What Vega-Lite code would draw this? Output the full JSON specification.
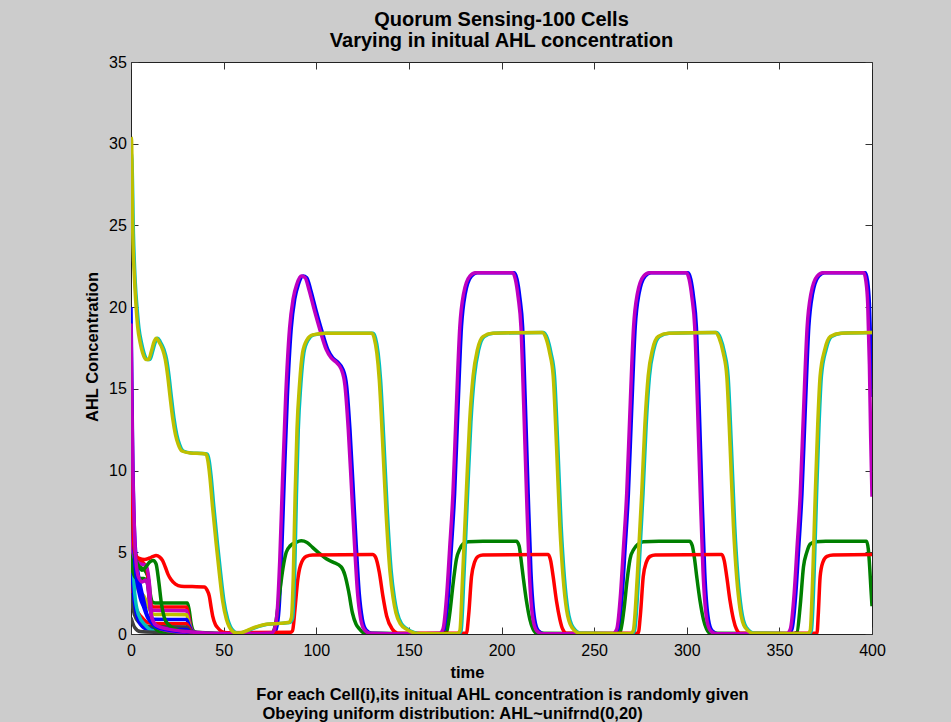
{
"$schema": "https://vega.github.io/schema/vega-lite/v6.json",
"width": 741, "height": 572,
"autosize": {"type": "none"},
"padding": {"left": 131, "top": 62, "right": 79, "bottom": 88},
"background": "#cccccc",
"title": {"text": ["Quorum Sensing-100 Cells", "Varying in initual AHL concentration"], "fontSize": 20, "fontWeight": "bold", "color": "black", "lineHeight": 21, "anchor": "middle", "frame": "group", "baseline": "bottom", "offset": 8, "dy": 25},
"config": {"view": {"stroke": "#222222", "strokeWidth": 1, "fill": "white"}, "font": "Liberation Sans"},
"data": {"values": [
{"s":"s01","t":0,"v":9},{"s":"s01","t":0.8,"v":6},{"s":"s01","t":2,"v":4.4},{"s":"s01","t":5,"v":4.1},{"s":"s01","t":8,"v":3.8},{"s":"s01","t":9.5,"v":3.3},{"s":"s01","t":10.5,"v":2.4},{"s":"s01","t":11.5,"v":1.95},{"s":"s01","t":13,"v":1.9},{"s":"s01","t":30.5,"v":1.9},{"s":"s01","t":31.5,"v":1.4},{"s":"s01","t":32.5,"v":0.6},{"s":"s01","t":34,"v":0.15},{"s":"s01","t":37,"v":0.03},{"s":"s01","t":60,"v":0},
{"s":"s02","t":0,"v":7},{"s":"s02","t":1,"v":5},{"s":"s02","t":2,"v":4.5},{"s":"s02","t":6,"v":4.4},{"s":"s02","t":8.5,"v":4},{"s":"s02","t":10,"v":2.5},{"s":"s02","t":11,"v":1.75},{"s":"s02","t":12,"v":1.65},{"s":"s02","t":30,"v":1.65},{"s":"s02","t":31,"v":1.2},{"s":"s02","t":32,"v":0.5},{"s":"s02","t":33.5,"v":0.1},{"s":"s02","t":36,"v":0.02},{"s":"s02","t":60,"v":0},
{"s":"s03","t":0,"v":17},{"s":"s03","t":0.8,"v":9},{"s":"s03","t":1.8,"v":5},{"s":"s03","t":3,"v":3.6},{"s":"s03","t":6,"v":3.2},{"s":"s03","t":8.5,"v":3.3},{"s":"s03","t":9.5,"v":2.5},{"s":"s03","t":10.5,"v":1.6},{"s":"s03","t":11.5,"v":1.45},{"s":"s03","t":30,"v":1.42},{"s":"s03","t":31,"v":1.0},{"s":"s03","t":32.3,"v":0.4},{"s":"s03","t":34,"v":0.08},{"s":"s03","t":37,"v":0},{"s":"s03","t":60,"v":0},
{"s":"s04","t":0,"v":11},{"s":"s04","t":1,"v":6},{"s":"s04","t":2,"v":3.6},{"s":"s04","t":4,"v":2.7},{"s":"s04","t":7,"v":2.3},{"s":"s04","t":9,"v":1.8},{"s":"s04","t":11,"v":1.3},{"s":"s04","t":13,"v":1.2},{"s":"s04","t":30,"v":1.18},{"s":"s04","t":31,"v":0.8},{"s":"s04","t":32.3,"v":0.3},{"s":"s04","t":34,"v":0.05},{"s":"s04","t":60,"v":0},
{"s":"s05","t":0,"v":20},{"s":"s05","t":0.8,"v":12},{"s":"s05","t":2,"v":6},{"s":"s05","t":3.5,"v":4},{"s":"s05","t":5,"v":3},{"s":"s05","t":7,"v":2},{"s":"s05","t":9,"v":1.1},{"s":"s05","t":11,"v":0.9},{"s":"s05","t":30,"v":0.88},{"s":"s05","t":31.5,"v":0.5},{"s":"s05","t":33,"v":0.15},{"s":"s05","t":35,"v":0.02},{"s":"s05","t":60,"v":0},
{"s":"s06","t":0,"v":3.5},{"s":"s06","t":1,"v":2.5},{"s":"s06","t":3,"v":1.5},{"s":"s06","t":6,"v":1},{"s":"s06","t":9,"v":0.7},{"s":"s06","t":12,"v":0.64},{"s":"s06","t":30,"v":0.62},{"s":"s06","t":31.5,"v":0.35},{"s":"s06","t":33,"v":0.1},{"s":"s06","t":35,"v":0.02},{"s":"s06","t":60,"v":0},
{"s":"s07","t":0,"v":2.5},{"s":"s07","t":1,"v":1.6},{"s":"s07","t":3,"v":0.9},{"s":"s07","t":6,"v":0.6},{"s":"s07","t":10,"v":0.45},{"s":"s07","t":30,"v":0.43},{"s":"s07","t":32,"v":0.2},{"s":"s07","t":34,"v":0.04},{"s":"s07","t":60,"v":0},
{"s":"s08","t":0,"v":6},{"s":"s08","t":1,"v":3},{"s":"s08","t":2.5,"v":1.5},{"s":"s08","t":5,"v":0.6},{"s":"s08","t":9,"v":0.3},{"s":"s08","t":30,"v":0.27},{"s":"s08","t":32,"v":0.1},{"s":"s08","t":34,"v":0.02},{"s":"s08","t":60,"v":0},
{"s":"s09","t":0,"v":12},{"s":"s09","t":1,"v":5},{"s":"s09","t":2,"v":2.5},{"s":"s09","t":4,"v":1.2},{"s":"s09","t":8,"v":0.5},{"s":"s09","t":12,"v":0.2},{"s":"s09","t":25,"v":0.1},{"s":"s09","t":40,"v":0.03},{"s":"s09","t":60,"v":0},
{"s":"s10","t":0,"v":1},{"s":"s10","t":2,"v":0.4},{"s":"s10","t":5,"v":0.15},{"s":"s10","t":15,"v":0.1},{"s":"s10","t":30,"v":0.08},{"s":"s10","t":35,"v":0},{"s":"s10","t":60,"v":0},
{"s":"s11","t":0,"v":5},{"s":"s11","t":1,"v":3.8},{"s":"s11","t":3,"v":3.4},{"s":"s11","t":7,"v":3.4},{"s":"s11","t":9,"v":3.1},{"s":"s11","t":10.5,"v":1.5},{"s":"s11","t":12,"v":0.5},{"s":"s11","t":16,"v":0.15},{"s":"s11","t":30,"v":0.1},{"s":"s11","t":40,"v":0.02},{"s":"s11","t":60,"v":0},
{"s":"s12","t":0,"v":8},{"s":"s12","t":1,"v":5},{"s":"s12","t":2.5,"v":4.5},{"s":"s12","t":5,"v":4.3},{"s":"s12","t":8,"v":4.2},{"s":"s12","t":10,"v":3},{"s":"s12","t":11,"v":1.2},{"s":"s12","t":13,"v":0.5},{"s":"s12","t":20,"v":0.2},{"s":"s12","t":35,"v":0.05},{"s":"s12","t":60,"v":0},
{"s":"s13","t":0,"v":13},{"s":"s13","t":0.6,"v":9},{"s":"s13","t":1.3,"v":6},{"s":"s13","t":2.2,"v":4.2},{"s":"s13","t":3.5,"v":3.0},{"s":"s13","t":5,"v":2.2},{"s":"s13","t":7,"v":1.6},{"s":"s13","t":9,"v":1.0},{"s":"s13","t":11,"v":0.7},{"s":"s13","t":14,"v":0.4},{"s":"s13","t":20,"v":0.25},{"s":"s13","t":30,"v":0.12},{"s":"s13","t":40,"v":0.05},{"s":"s13","t":50,"v":0.02},{"s":"s13","t":70,"v":0.03},{"s":"s13","t":77,"v":0.06},{"s":"s13","t":78.4,"v":0.3},{"s":"s13","t":79.9,"v":1.5},{"s":"s13","t":81.2,"v":4.5},{"s":"s13","t":82.7,"v":9.4},{"s":"s13","t":84.4,"v":14.5},{"s":"s13","t":86.5,"v":18.7},{"s":"s13","t":88.4,"v":20.5},{"s":"s13","t":90.4,"v":21.4},{"s":"s13","t":92.9,"v":21.9},{"s":"s13","t":94.9,"v":21.8},{"s":"s13","t":96.9,"v":21.1},{"s":"s13","t":99.9,"v":19.8},{"s":"s13","t":102.9,"v":18.6},{"s":"s13","t":106.3,"v":17.4},{"s":"s13","t":108.9,"v":16.9},{"s":"s13","t":111.9,"v":16.6},{"s":"s13","t":114.4,"v":16.2},{"s":"s13","t":116.4,"v":15.2},{"s":"s13","t":118.2,"v":12.5},{"s":"s13","t":119.9,"v":9},{"s":"s13","t":121.6,"v":5.4},{"s":"s13","t":123.2,"v":2.5},{"s":"s13","t":124.9,"v":0.9},{"s":"s13","t":126.9,"v":0.25},{"s":"s13","t":129.9,"v":0.05},{"s":"s13","t":150,"v":0.01},{"s":"s13","t":167.4,"v":0.03},{"s":"s13","t":169.3,"v":0.3},{"s":"s13","t":171.4,"v":2.5},{"s":"s13","t":172.9,"v":5.2},{"s":"s13","t":174.7,"v":8.6},{"s":"s13","t":176.4,"v":13.5},{"s":"s13","t":178.4,"v":18.8},{"s":"s13","t":180.4,"v":20.8},{"s":"s13","t":183.8,"v":21.9},{"s":"s13","t":186.9,"v":22.1},{"s":"s13","t":206.9,"v":22.1},{"s":"s13","t":208.4,"v":21.7},{"s":"s13","t":209.9,"v":20.6},{"s":"s13","t":211.4,"v":18.8},{"s":"s13","t":212.9,"v":14},{"s":"s13","t":214.4,"v":8.6},{"s":"s13","t":215.9,"v":3.8},{"s":"s13","t":217.9,"v":0.9},{"s":"s13","t":219.9,"v":0.2},{"s":"s13","t":222.9,"v":0.02},{"s":"s13","t":261,"v":0.02},{"s":"s13","t":263.1,"v":0.3},{"s":"s13","t":265.2,"v":2.5},{"s":"s13","t":266.7,"v":5.2},{"s":"s13","t":268.5,"v":8.6},{"s":"s13","t":270.2,"v":13.5},{"s":"s13","t":272.2,"v":18.8},{"s":"s13","t":274.2,"v":20.8},{"s":"s13","t":277.6,"v":21.9},{"s":"s13","t":280.7,"v":22.1},{"s":"s13","t":300.7,"v":22.1},{"s":"s13","t":302.2,"v":21.7},{"s":"s13","t":303.7,"v":20.6},{"s":"s13","t":305.2,"v":18.8},{"s":"s13","t":306.7,"v":14},{"s":"s13","t":308.2,"v":8.6},{"s":"s13","t":309.7,"v":3.8},{"s":"s13","t":311.7,"v":0.9},{"s":"s13","t":313.7,"v":0.2},{"s":"s13","t":316.7,"v":0.02},{"s":"s13","t":355,"v":0.02},{"s":"s13","t":356.8,"v":0.3},{"s":"s13","t":358.9,"v":2.5},{"s":"s13","t":360.4,"v":5.2},{"s":"s13","t":362.2,"v":8.6},{"s":"s13","t":363.9,"v":13.5},{"s":"s13","t":365.9,"v":18.8},{"s":"s13","t":367.9,"v":20.8},{"s":"s13","t":371.3,"v":21.9},{"s":"s13","t":374.4,"v":22.1},{"s":"s13","t":396.4,"v":22.1},{"s":"s13","t":397.6,"v":21.6},{"s":"s13","t":398.6,"v":20.2},{"s":"s13","t":399.5,"v":17},{"s":"s13","t":400,"v":14.5},
{"s":"s14","t":0,"v":14},{"s":"s14","t":0.7,"v":9},{"s":"s14","t":1.5,"v":6},{"s":"s14","t":2.5,"v":4.6},{"s":"s14","t":4,"v":4.2},{"s":"s14","t":6,"v":3.9},{"s":"s14","t":8,"v":4.1},{"s":"s14","t":10,"v":4.4},{"s":"s14","t":12,"v":4.5},{"s":"s14","t":13.5,"v":4.3},{"s":"s14","t":15,"v":3.2},{"s":"s14","t":16.5,"v":1.8},{"s":"s14","t":18,"v":1.0},{"s":"s14","t":20,"v":0.6},{"s":"s14","t":25,"v":0.25},{"s":"s14","t":35,"v":0.1},{"s":"s14","t":50,"v":0.03},{"s":"s14","t":76,"v":0.05},{"s":"s14","t":78,"v":0.6},{"s":"s14","t":80,"v":2.3},{"s":"s14","t":82,"v":4},{"s":"s14","t":83.8,"v":5.0},{"s":"s14","t":86,"v":5.4},{"s":"s14","t":89,"v":5.6},{"s":"s14","t":91.9,"v":5.7},{"s":"s14","t":95,"v":5.6},{"s":"s14","t":98,"v":5.3},{"s":"s14","t":102,"v":4.9},{"s":"s14","t":105.4,"v":4.6},{"s":"s14","t":109,"v":4.4},{"s":"s14","t":113.5,"v":4.1},{"s":"s14","t":115.5,"v":3.6},{"s":"s14","t":117.5,"v":2.6},{"s":"s14","t":119.5,"v":1.3},{"s":"s14","t":121.5,"v":0.6},{"s":"s14","t":123.4,"v":0.3},{"s":"s14","t":126,"v":0.05},{"s":"s14","t":168,"v":0.02},{"s":"s14","t":170.3,"v":0.1},{"s":"s14","t":172,"v":1.2},{"s":"s14","t":174,"v":3.2},{"s":"s14","t":175.7,"v":4.6},{"s":"s14","t":177.5,"v":5.2},{"s":"s14","t":179.2,"v":5.5},{"s":"s14","t":182,"v":5.65},{"s":"s14","t":190,"v":5.68},{"s":"s14","t":208,"v":5.68},{"s":"s14","t":209.5,"v":5.4},{"s":"s14","t":210.5,"v":4.6},{"s":"s14","t":211.7,"v":3.5},{"s":"s14","t":213.5,"v":2.0},{"s":"s14","t":215.3,"v":0.9},{"s":"s14","t":217,"v":0.3},{"s":"s14","t":219,"v":0.05},{"s":"s14","t":262,"v":0.02},{"s":"s14","t":264,"v":0.1},{"s":"s14","t":266,"v":1.4},{"s":"s14","t":267.8,"v":3.3},{"s":"s14","t":269.4,"v":4.6},{"s":"s14","t":271.5,"v":5.2},{"s":"s14","t":273.8,"v":5.5},{"s":"s14","t":276.5,"v":5.65},{"s":"s14","t":285,"v":5.68},{"s":"s14","t":301.5,"v":5.68},{"s":"s14","t":303,"v":5.4},{"s":"s14","t":304.2,"v":4.6},{"s":"s14","t":305.4,"v":3.5},{"s":"s14","t":307.2,"v":2.0},{"s":"s14","t":309,"v":0.9},{"s":"s14","t":310.7,"v":0.3},{"s":"s14","t":312.6,"v":0.05},{"s":"s14","t":357.5,"v":0.02},{"s":"s14","t":359.5,"v":0.1},{"s":"s14","t":361.3,"v":1.8},{"s":"s14","t":363,"v":4.1},{"s":"s14","t":364.8,"v":5.0},{"s":"s14","t":366.6,"v":5.5},{"s":"s14","t":369.5,"v":5.65},{"s":"s14","t":375,"v":5.68},{"s":"s14","t":397,"v":5.68},{"s":"s14","t":398,"v":5.2},{"s":"s14","t":398.8,"v":4.0},{"s":"s14","t":399.4,"v":2.8},{"s":"s14","t":400,"v":1.7},
{"s":"s15","t":0,"v":15},{"s":"s15","t":0.8,"v":8},{"s":"s15","t":1.8,"v":5.2},{"s":"s15","t":3,"v":4.75},{"s":"s15","t":4.5,"v":4.62},{"s":"s15","t":7.2,"v":4.56},{"s":"s15","t":10,"v":4.65},{"s":"s15","t":12,"v":4.75},{"s":"s15","t":13.5,"v":4.8},{"s":"s15","t":15.5,"v":4.7},{"s":"s15","t":17,"v":4.5},{"s":"s15","t":18.5,"v":4.1},{"s":"s15","t":20,"v":3.65},{"s":"s15","t":21.6,"v":3.33},{"s":"s15","t":24,"v":3.05},{"s":"s15","t":27,"v":2.92},{"s":"s15","t":33,"v":2.9},{"s":"s15","t":39.6,"v":2.88},{"s":"s15","t":41,"v":2.7},{"s":"s15","t":42.3,"v":2.3},{"s":"s15","t":43.3,"v":1.6},{"s":"s15","t":44.1,"v":1.1},{"s":"s15","t":45.5,"v":0.6},{"s":"s15","t":46.8,"v":0.38},{"s":"s15","t":49,"v":0.15},{"s":"s15","t":51.8,"v":0.08},{"s":"s15","t":86,"v":0.1},{"s":"s15","t":87.2,"v":0.2},{"s":"s15","t":88.5,"v":1.5},{"s":"s15","t":90,"v":3.3},{"s":"s15","t":91.5,"v":4.2},{"s":"s15","t":94.6,"v":4.75},{"s":"s15","t":98,"v":4.83},{"s":"s15","t":130.5,"v":4.86},{"s":"s15","t":132,"v":4.7},{"s":"s15","t":134,"v":3.8},{"s":"s15","t":136,"v":2.3},{"s":"s15","t":138,"v":1.1},{"s":"s15","t":141,"v":0.3},{"s":"s15","t":144,"v":0.05},{"s":"s15","t":181.1,"v":0.05},{"s":"s15","t":182.3,"v":1.2},{"s":"s15","t":183.8,"v":3.5},{"s":"s15","t":185.5,"v":4.4},{"s":"s15","t":187.4,"v":4.75},{"s":"s15","t":190,"v":4.84},{"s":"s15","t":225.2,"v":4.86},{"s":"s15","t":226.5,"v":4.5},{"s":"s15","t":227.9,"v":3.5},{"s":"s15","t":229.7,"v":2.0},{"s":"s15","t":231.5,"v":0.9},{"s":"s15","t":233,"v":0.3},{"s":"s15","t":235,"v":0.05},{"s":"s15","t":273.8,"v":0.05},{"s":"s15","t":275,"v":1.2},{"s":"s15","t":276.5,"v":3.5},{"s":"s15","t":278.2,"v":4.4},{"s":"s15","t":280.2,"v":4.75},{"s":"s15","t":283,"v":4.84},{"s":"s15","t":318.9,"v":4.86},{"s":"s15","t":320.2,"v":4.5},{"s":"s15","t":321.6,"v":3.5},{"s":"s15","t":323.4,"v":2.0},{"s":"s15","t":325.2,"v":0.9},{"s":"s15","t":326.8,"v":0.3},{"s":"s15","t":328.8,"v":0.05},{"s":"s15","t":370.3,"v":0.05},{"s":"s15","t":371,"v":1.2},{"s":"s15","t":372,"v":3.5},{"s":"s15","t":373.5,"v":4.4},{"s":"s15","t":375.7,"v":4.75},{"s":"s15","t":379,"v":4.84},{"s":"s15","t":400,"v":4.86},
{"s":"s16","t":0,"v":29.5},{"s":"s16","t":0.5,"v":29},{"s":"s16","t":1.3,"v":24.5},{"s":"s16","t":2.3,"v":21.5},{"s":"s16","t":3.3,"v":19.9},{"s":"s16","t":4.3,"v":18.7},{"s":"s16","t":5.7,"v":17.8},{"s":"s16","t":7,"v":17.2},{"s":"s16","t":8.7,"v":16.8},{"s":"s16","t":10.2,"v":16.8},{"s":"s16","t":11.7,"v":17.3},{"s":"s16","t":13.2,"v":17.9},{"s":"s16","t":14.4,"v":18.1},{"s":"s16","t":15.7,"v":17.9},{"s":"s16","t":17.8,"v":17.4},{"s":"s16","t":19.2,"v":16.8},{"s":"s16","t":20.5,"v":15.8},{"s":"s16","t":21.7,"v":14.6},{"s":"s16","t":23.2,"v":13.2},{"s":"s16","t":24.7,"v":12.2},{"s":"s16","t":26.2,"v":11.6},{"s":"s16","t":28.2,"v":11.2},{"s":"s16","t":32.7,"v":11.08},{"s":"s16","t":38.7,"v":11.05},{"s":"s16","t":41.2,"v":11},{"s":"s16","t":42.2,"v":10.6},{"s":"s16","t":43.2,"v":9.7},{"s":"s16","t":44.7,"v":7.8},{"s":"s16","t":46.7,"v":5.5},{"s":"s16","t":48.4,"v":3.7},{"s":"s16","t":50.2,"v":2},{"s":"s16","t":52.2,"v":0.9},{"s":"s16","t":53.7,"v":0.45},{"s":"s16","t":55.7,"v":0.15},{"s":"s16","t":57.7,"v":0.06},{"s":"s16","t":60.7,"v":0.1},{"s":"s16","t":64.7,"v":0.28},{"s":"s16","t":68.7,"v":0.45},{"s":"s16","t":73.7,"v":0.6},{"s":"s16","t":80.7,"v":0.65},{"s":"s16","t":85.7,"v":0.7},{"s":"s16","t":87.3,"v":1.0},{"s":"s16","t":88.3,"v":3.5},{"s":"s16","t":89.3,"v":8.5},{"s":"s16","t":90.3,"v":12.5},{"s":"s16","t":91.7,"v":15.3},{"s":"s16","t":93.3,"v":17.2},{"s":"s16","t":95.7,"v":18},{"s":"s16","t":98.7,"v":18.3},{"s":"s16","t":105.7,"v":18.4},{"s":"s16","t":130.7,"v":18.4},{"s":"s16","t":132,"v":18.1},{"s":"s16","t":133.4,"v":17.2},{"s":"s16","t":134.7,"v":15.6},{"s":"s16","t":136.5,"v":11.8},{"s":"s16","t":138.4,"v":7.4},{"s":"s16","t":140.5,"v":3.8},{"s":"s16","t":142.2,"v":2.2},{"s":"s16","t":143.7,"v":1.3},{"s":"s16","t":146.2,"v":0.6},{"s":"s16","t":149.3,"v":0.3},{"s":"s16","t":152.7,"v":0.1},{"s":"s16","t":155.7,"v":0.02},{"s":"s16","t":176.7,"v":0.02},{"s":"s16","t":178.2,"v":0.2},{"s":"s16","t":179.7,"v":3.5},{"s":"s16","t":181.7,"v":8.6},{"s":"s16","t":183.5,"v":13},{"s":"s16","t":185.4,"v":15.8},{"s":"s16","t":187.7,"v":17.4},{"s":"s16","t":190.7,"v":18.2},{"s":"s16","t":195.7,"v":18.4},{"s":"s16","t":222.7,"v":18.45},{"s":"s16","t":224.7,"v":18.1},{"s":"s16","t":226.7,"v":17.2},{"s":"s16","t":228.6,"v":15.8},{"s":"s16","t":230.4,"v":11.5},{"s":"s16","t":232.2,"v":6.6},{"s":"s16","t":234,"v":3.4},{"s":"s16","t":235.8,"v":1.5},{"s":"s16","t":238.7,"v":0.4},{"s":"s16","t":243,"v":0.05},{"s":"s16","t":270.2,"v":0.02},{"s":"s16","t":271.8,"v":0.2},{"s":"s16","t":274,"v":3.5},{"s":"s16","t":276.4,"v":8.6},{"s":"s16","t":278.1,"v":12.8},{"s":"s16","t":279.9,"v":15.8},{"s":"s16","t":282.2,"v":17.4},{"s":"s16","t":285.3,"v":18.2},{"s":"s16","t":290.7,"v":18.4},{"s":"s16","t":316.2,"v":18.45},{"s":"s16","t":318.2,"v":18.1},{"s":"s16","t":320.4,"v":17.2},{"s":"s16","t":322.3,"v":15.8},{"s":"s16","t":324.1,"v":11.5},{"s":"s16","t":325.9,"v":6.6},{"s":"s16","t":327.7,"v":3.4},{"s":"s16","t":329.5,"v":1.5},{"s":"s16","t":332.2,"v":0.4},{"s":"s16","t":336.7,"v":0.05},{"s":"s16","t":365.7,"v":0.02},{"s":"s16","t":367.3,"v":0.2},{"s":"s16","t":368.7,"v":3.5},{"s":"s16","t":370.1,"v":8.6},{"s":"s16","t":371.4,"v":12.8},{"s":"s16","t":372.7,"v":15.8},{"s":"s16","t":375.2,"v":17.4},{"s":"s16","t":378.2,"v":18.2},{"s":"s16","t":383.7,"v":18.4},{"s":"s16","t":400,"v":18.45},
{"s":"s17","t":0,"v":19},{"s":"s17","t":0.5,"v":14},{"s":"s17","t":1,"v":10},{"s":"s17","t":1.8,"v":6.5},{"s":"s17","t":2.7,"v":4.4},{"s":"s17","t":4,"v":3.5},{"s":"s17","t":6,"v":3.2},{"s":"s17","t":8,"v":3.3},{"s":"s17","t":9.3,"v":2.8},{"s":"s17","t":10.3,"v":1.6},{"s":"s17","t":11.5,"v":0.9},{"s":"s17","t":14,"v":0.5},{"s":"s17","t":20,"v":0.3},{"s":"s17","t":30,"v":0.15},{"s":"s17","t":40,"v":0.06},{"s":"s17","t":50,"v":0.03},{"s":"s17","t":70,"v":0.03},{"s":"s17","t":76,"v":0.06},{"s":"s17","t":77.5,"v":0.3},{"s":"s17","t":79,"v":1.5},{"s":"s17","t":80.3,"v":4.5},{"s":"s17","t":81.8,"v":9.4},{"s":"s17","t":83.5,"v":14.5},{"s":"s17","t":85.6,"v":18.7},{"s":"s17","t":87.5,"v":20.5},{"s":"s17","t":89.5,"v":21.4},{"s":"s17","t":92,"v":21.9},{"s":"s17","t":94,"v":21.8},{"s":"s17","t":96,"v":21.1},{"s":"s17","t":99,"v":19.8},{"s":"s17","t":102,"v":18.6},{"s":"s17","t":105.4,"v":17.4},{"s":"s17","t":108,"v":16.9},{"s":"s17","t":111,"v":16.6},{"s":"s17","t":113.5,"v":16.2},{"s":"s17","t":115.5,"v":15.2},{"s":"s17","t":117.3,"v":12.5},{"s":"s17","t":119,"v":9},{"s":"s17","t":120.7,"v":5.4},{"s":"s17","t":122.3,"v":2.5},{"s":"s17","t":124,"v":0.9},{"s":"s17","t":126,"v":0.25},{"s":"s17","t":129,"v":0.05},{"s":"s17","t":150,"v":0.01},{"s":"s17","t":166.5,"v":0.03},{"s":"s17","t":168.4,"v":0.3},{"s":"s17","t":170.5,"v":2.5},{"s":"s17","t":172,"v":5.2},{"s":"s17","t":173.8,"v":8.6},{"s":"s17","t":175.5,"v":13.5},{"s":"s17","t":177.5,"v":18.8},{"s":"s17","t":179.5,"v":20.8},{"s":"s17","t":182.9,"v":21.9},{"s":"s17","t":186,"v":22.1},{"s":"s17","t":206,"v":22.1},{"s":"s17","t":207.5,"v":21.7},{"s":"s17","t":209,"v":20.6},{"s":"s17","t":210.5,"v":18.8},{"s":"s17","t":212,"v":14},{"s":"s17","t":213.5,"v":8.6},{"s":"s17","t":215,"v":3.8},{"s":"s17","t":217,"v":0.9},{"s":"s17","t":219,"v":0.2},{"s":"s17","t":222,"v":0.02},{"s":"s17","t":260,"v":0.02},{"s":"s17","t":262.2,"v":0.3},{"s":"s17","t":264.3,"v":2.5},{"s":"s17","t":265.8,"v":5.2},{"s":"s17","t":267.6,"v":8.6},{"s":"s17","t":269.3,"v":13.5},{"s":"s17","t":271.3,"v":18.8},{"s":"s17","t":273.3,"v":20.8},{"s":"s17","t":276.7,"v":21.9},{"s":"s17","t":279.8,"v":22.1},{"s":"s17","t":299.8,"v":22.1},{"s":"s17","t":301.3,"v":21.7},{"s":"s17","t":302.8,"v":20.6},{"s":"s17","t":304.3,"v":18.8},{"s":"s17","t":305.8,"v":14},{"s":"s17","t":307.3,"v":8.6},{"s":"s17","t":308.8,"v":3.8},{"s":"s17","t":310.8,"v":0.9},{"s":"s17","t":312.8,"v":0.2},{"s":"s17","t":315.8,"v":0.02},{"s":"s17","t":354,"v":0.02},{"s":"s17","t":355.9,"v":0.3},{"s":"s17","t":358,"v":2.5},{"s":"s17","t":359.5,"v":5.2},{"s":"s17","t":361.3,"v":8.6},{"s":"s17","t":363,"v":13.5},{"s":"s17","t":365,"v":18.8},{"s":"s17","t":367,"v":20.8},{"s":"s17","t":370.4,"v":21.9},{"s":"s17","t":373.5,"v":22.1},{"s":"s17","t":395.5,"v":22.1},{"s":"s17","t":396.7,"v":21.6},{"s":"s17","t":397.7,"v":20.2},{"s":"s17","t":398.6,"v":16.5},{"s":"s17","t":399.3,"v":12},{"s":"s17","t":400,"v":8.4},
{"s":"s18","t":0,"v":30.4},{"s":"s18","t":0.3,"v":30.2},{"s":"s18","t":0.9,"v":24.9},{"s":"s18","t":1.8,"v":21.9},{"s":"s18","t":2.7,"v":20.1},{"s":"s18","t":3.6,"v":18.8},{"s":"s18","t":5,"v":17.8},{"s":"s18","t":6.3,"v":17.2},{"s":"s18","t":8,"v":16.8},{"s":"s18","t":9.5,"v":16.8},{"s":"s18","t":11,"v":17.3},{"s":"s18","t":12.5,"v":17.9},{"s":"s18","t":13.7,"v":18.1},{"s":"s18","t":15,"v":17.9},{"s":"s18","t":17.1,"v":17.4},{"s":"s18","t":18.5,"v":16.8},{"s":"s18","t":19.8,"v":15.8},{"s":"s18","t":21,"v":14.6},{"s":"s18","t":22.5,"v":13.2},{"s":"s18","t":24,"v":12.2},{"s":"s18","t":25.5,"v":11.6},{"s":"s18","t":27.5,"v":11.2},{"s":"s18","t":32,"v":11.08},{"s":"s18","t":38,"v":11.05},{"s":"s18","t":40.5,"v":11},{"s":"s18","t":41.5,"v":10.6},{"s":"s18","t":42.5,"v":9.7},{"s":"s18","t":44,"v":7.8},{"s":"s18","t":46,"v":5.5},{"s":"s18","t":47.7,"v":3.7},{"s":"s18","t":49.5,"v":2},{"s":"s18","t":51.5,"v":0.9},{"s":"s18","t":53,"v":0.45},{"s":"s18","t":55,"v":0.15},{"s":"s18","t":57,"v":0.06},{"s":"s18","t":60,"v":0.1},{"s":"s18","t":64,"v":0.28},{"s":"s18","t":68,"v":0.45},{"s":"s18","t":73,"v":0.6},{"s":"s18","t":80,"v":0.65},{"s":"s18","t":85,"v":0.7},{"s":"s18","t":86.6,"v":1.0},{"s":"s18","t":87.6,"v":3.5},{"s":"s18","t":88.6,"v":8.5},{"s":"s18","t":89.6,"v":12.5},{"s":"s18","t":91,"v":15.3},{"s":"s18","t":92.6,"v":17.2},{"s":"s18","t":95,"v":18},{"s":"s18","t":98,"v":18.3},{"s":"s18","t":105,"v":18.4},{"s":"s18","t":130,"v":18.4},{"s":"s18","t":131.3,"v":18.1},{"s":"s18","t":132.7,"v":17.2},{"s":"s18","t":134,"v":15.6},{"s":"s18","t":135.8,"v":11.8},{"s":"s18","t":137.7,"v":7.4},{"s":"s18","t":139.8,"v":3.8},{"s":"s18","t":141.5,"v":2.2},{"s":"s18","t":143,"v":1.3},{"s":"s18","t":145.5,"v":0.6},{"s":"s18","t":148.6,"v":0.3},{"s":"s18","t":152,"v":0.1},{"s":"s18","t":155,"v":0.02},{"s":"s18","t":176,"v":0.02},{"s":"s18","t":177.5,"v":0.2},{"s":"s18","t":179,"v":3.5},{"s":"s18","t":181,"v":8.6},{"s":"s18","t":182.8,"v":13},{"s":"s18","t":184.7,"v":15.8},{"s":"s18","t":187,"v":17.4},{"s":"s18","t":190,"v":18.2},{"s":"s18","t":195,"v":18.4},{"s":"s18","t":222,"v":18.45},{"s":"s18","t":224,"v":18.1},{"s":"s18","t":226,"v":17.2},{"s":"s18","t":227.9,"v":15.8},{"s":"s18","t":229.7,"v":11.5},{"s":"s18","t":231.5,"v":6.6},{"s":"s18","t":233.3,"v":3.4},{"s":"s18","t":235.1,"v":1.5},{"s":"s18","t":238,"v":0.4},{"s":"s18","t":242.3,"v":0.05},{"s":"s18","t":269.5,"v":0.02},{"s":"s18","t":271.1,"v":0.2},{"s":"s18","t":273.3,"v":3.5},{"s":"s18","t":275.7,"v":8.6},{"s":"s18","t":277.4,"v":12.8},{"s":"s18","t":279.2,"v":15.8},{"s":"s18","t":281.5,"v":17.4},{"s":"s18","t":284.6,"v":18.2},{"s":"s18","t":290,"v":18.4},{"s":"s18","t":315.5,"v":18.45},{"s":"s18","t":317.5,"v":18.1},{"s":"s18","t":319.7,"v":17.2},{"s":"s18","t":321.6,"v":15.8},{"s":"s18","t":323.4,"v":11.5},{"s":"s18","t":325.2,"v":6.6},{"s":"s18","t":327,"v":3.4},{"s":"s18","t":328.8,"v":1.5},{"s":"s18","t":331.5,"v":0.4},{"s":"s18","t":336,"v":0.05},{"s":"s18","t":365,"v":0.02},{"s":"s18","t":366.6,"v":0.2},{"s":"s18","t":368,"v":3.5},{"s":"s18","t":369.4,"v":8.6},{"s":"s18","t":370.7,"v":12.8},{"s":"s18","t":372,"v":15.8},{"s":"s18","t":374.5,"v":17.4},{"s":"s18","t":377.5,"v":18.2},{"s":"s18","t":383,"v":18.4},{"s":"s18","t":400,"v":18.45}
]},
"layer": [
{"mark": {"type": "line", "strokeWidth": 3.5, "clip": true, "interpolate": "monotone"},
 "encoding": {
  "x": {"field": "t", "type": "quantitative", "scale": {"domain": [0, 400], "nice": false, "zero": false},
   "axis": {"orient": "bottom", "values": [0, 50, 100, 150, 200, 250, 300, 350, 400], "labelFlush": false, "labelFontSize": 16, "labelColor": "black", "labelPadding": 15.4, "tickSize": -7, "tickColor": "#333333", "domain": false, "grid": false,
    "title": "time", "titleFontSize": 16.5, "titleFontWeight": "bold", "titleColor": "black", "titleX": 336, "titleY": 43, "titleAlign": "center", "titleBaseline": "alphabetic", "titleAngle": 0}},
  "y": {"field": "v", "type": "quantitative", "scale": {"domain": [0, 35], "nice": false, "zero": false},
   "axis": {"orient": "left", "values": [0, 5, 10, 15, 20, 25, 30, 35], "labelFlush": false, "labelFontSize": 16, "labelColor": "black", "labelPadding": 11.7, "tickSize": -7, "tickColor": "#333333", "domain": false, "grid": false,
    "title": "AHL Concentration", "titleFontSize": 16.5, "titleFontWeight": "bold", "titleColor": "black", "titleX": -34, "titleY": 284.5, "titleAngle": 270, "titleAlign": "center", "titleBaseline": "alphabetic"}},
  "color": {"field": "s", "type": "nominal", "legend": null,
   "scale": {"domain": ["s01","s02","s03","s04","s05","s06","s07","s08","s09","s10","s11","s12","s13","s14","s15","s16","s17","s18"],
    "range": ["#008000","#ff0000","#bf00bf","#bfbf00","#0000ff","#ff0000","#404040","#0000ff","#00bfbf","#404040","#008000","#bf00bf","#0000ff","#008000","#ff0000","#00bfbf","#bf00bf","#bfbf00"]}}
 }},
{"mark": {"type": "point", "opacity": 0},
 "encoding": {
  "x": {"field": "t", "type": "quantitative", "scale": {"domain": [0, 400], "nice": false, "zero": false},
   "axis": {"orient": "top", "values": [0, 50, 100, 150, 200, 250, 300, 350, 400], "labels": false, "tickSize": -7, "tickColor": "#333333", "domain": false, "grid": false,
    "title": "Obeying uniform distribution: AHL~unifrnd(0,20)", "titleFontSize": 16.5, "titleFontWeight": "bold", "titleColor": "black", "titleX": 131, "titleY": 656, "titleAlign": "left", "titleBaseline": "alphabetic", "titleAngle": 0}},
  "y": {"field": "v", "type": "quantitative", "scale": {"domain": [0, 35], "nice": false, "zero": false},
   "axis": {"orient": "right", "values": [0, 5, 10, 15, 20, 25, 30, 35], "labels": false, "tickSize": -7, "tickColor": "#333333", "domain": false, "grid": false,
    "title": "For each Cell(i),its initual AHL concentration is randomly given", "titleFontSize": 16.5, "titleFontWeight": "bold", "titleColor": "black", "titleX": -370, "titleY": 637, "titleAlign": "center", "titleBaseline": "alphabetic", "titleAngle": 0}}
 }}
],
"resolve": {"axis": {"x": "independent", "y": "independent"}}
}
